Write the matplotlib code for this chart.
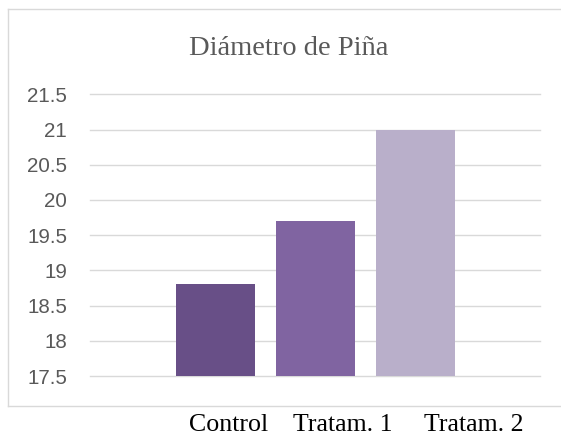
import matplotlib
matplotlib.use("Agg")
import matplotlib.pyplot as plt
from matplotlib.lines import Line2D

title = "Diámetro de Piña"
categories = ["Control", "Tratam. 1", "Tratam. 2"]
values = [18.8, 19.7, 21.0]
colors = ["#684F87", "#8064A1", "#B9AFCA"]
yticks = [17.5, 18, 18.5, 19, 19.5, 20, 20.5, 21, 21.5]
ytick_labels = ["17.5", "18", "18.5", "19", "19.5", "20", "20.5", "21", "21.5"]

W, H = 561, 436
fig = plt.figure(figsize=(W / 100, H / 100), dpi=100)

# chart border box: left, top and bottom edges only (open past the right edge)
bx0, by_top, by_bot = 7.5 / W, 1 - 9 / H, 1 - 405.5 / H
for xs, ys in [([bx0, bx0], [by_bot, by_top]),
               ([bx0, 1.0], [by_top, by_top]),
               ([bx0, 1.0], [by_bot, by_bot])]:
    fig.lines.append(Line2D(xs, ys, transform=fig.transFigure,
                            color="#D9D9D9", linewidth=1.0, zorder=0))

left, right = 90 / W, 540 / W
bottom, top = 1 - 376 / H, 1 - 94.3 / H
ax = fig.add_axes([left, bottom, right - left, top - bottom])

x = list(range(len(categories)))
ax.bar(x, [v - yticks[0] for v in values], bottom=yticks[0], width=0.79,
       color=colors, zorder=3)
ax.set_xlim(-1.255, 3.245)
ax.set_ylim(yticks[0], yticks[-1])
for t in yticks:
    ax.axhline(t, color="#D9D9D9", linewidth=1.0, zorder=1, clip_on=False)
ax.set_yticks(yticks)
ax.set_yticklabels(ytick_labels, fontfamily="Liberation Sans", fontsize=14.8, color="#595959")
ax.tick_params(axis="y", length=0, pad=16.5)
ax.set_xticks([])
for s in ax.spines.values():
    s.set_visible(False)

fig.text(289 / W, 1 - 55 / H, title, ha="center", va="baseline",
         fontfamily="Liberation Serif", fontsize=20.5, color="#595959")

label_x = [228.5, 343, 474]
for lx, lab in zip(label_x, categories):
    fig.text(lx / W, 1 - 431 / H, lab, ha="center", va="baseline",
             fontfamily="Liberation Serif", fontsize=18.6, color="black")

fig.savefig("out.png", dpi=100)
